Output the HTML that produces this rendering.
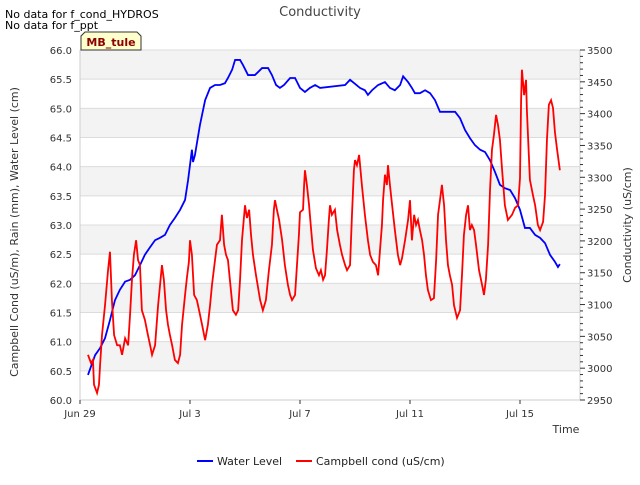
<!DOCTYPE html>
<html><head><meta charset="utf-8"><style>
body{margin:0;background:#fff;}
svg{font-family:"DejaVu Sans","Liberation Sans",sans-serif;}
</style></head><body>
<svg id="chart" width="640" height="480" viewBox="0 0 640 480" xmlns="http://www.w3.org/2000/svg">
<rect x="0" y="0" width="640" height="480" fill="#fff"/>
<text x="320" y="16" text-anchor="middle" font-size="13" fill="#444">Conductivity</text>
<text x="5" y="18" font-size="11" fill="#000">No data for f_cond_HYDROS</text>
<text x="5" y="29" font-size="11" fill="#000">No data for f_ppt</text>
<g id="bands"></g>
<g id="grid"></g>
<g id="series"></g>
<g id="axes"></g>
<g>
<path d="M81,50 L81,36 L85,32 L137,32 L141,36 L141,50 Z" fill="#ffffcc" stroke="#333" stroke-width="1"/>
<text x="111" y="46" text-anchor="middle" font-size="11" font-weight="bold" fill="#8b0000">MB_tule</text>
</g>
<text transform="translate(18,232) rotate(-90)" text-anchor="middle" font-size="11" fill="#333">Campbell Cond (uS/m), Rain (mm), Water Level (cm)</text>
<text transform="translate(631,225) rotate(-90)" text-anchor="middle" font-size="11" fill="#333">Conductivity (uS/cm)</text>
<text x="566" y="433" text-anchor="middle" font-size="11" fill="#333">Time</text>
<g>
<g><line x1="197" y1="461" x2="213" y2="461" stroke="#0000ff" stroke-width="2"/><text x="217" y="465" font-size="11" fill="#222">Water Level</text></g>
<g><line x1="296" y1="461" x2="312" y2="461" stroke="#ff0000" stroke-width="2"/><text x="316" y="465" font-size="11" fill="#222">Campbell cond (uS/cm)</text></g>
</g>
</svg>
<script>
const xTickLabels = ["Jun 29","Jul 3","Jul 7","Jul 11","Jul 15"];
const xTickDays = [0,4,8,12,16];
const leftTicks = [60.0,60.5,61.0,61.5,62.0,62.5,63.0,63.5,64.0,64.5,65.0,65.5,66.0];
const rightTicks = [2950,3000,3050,3100,3150,3200,3250,3300,3350,3400,3450,3500];
const waterDays = [0.29,0.55,0.73,0.91,1.09,1.27,1.45,1.64,1.82,2.0,2.18,2.36,2.55,2.73,2.91,3.09,3.27,3.45,3.64,3.82,3.93,4.07,4.11,4.18,4.36,4.55,4.73,4.91,5.09,5.27,5.38,5.53,5.64,5.82,5.93,6.11,6.36,6.47,6.62,6.84,6.98,7.13,7.27,7.42,7.64,7.82,8.0,8.18,8.36,8.55,8.73,9.64,9.82,10.0,10.18,10.36,10.47,10.62,10.84,11.09,11.27,11.45,11.64,11.75,11.93,12.07,12.18,12.36,12.55,12.73,12.91,13.09,13.64,13.82,14.0,14.18,14.36,14.55,14.73,14.91,15.09,15.27,15.45,15.64,15.82,16.0,16.18,16.36,16.55,16.73,16.91,17.09,17.27,17.38,17.45];
const waterLevel = [60.43,60.77,60.89,61.06,61.37,61.71,61.89,62.03,62.06,62.14,62.31,62.49,62.62,62.74,62.78,62.83,63.0,63.12,63.26,63.43,63.77,64.29,64.08,64.2,64.71,65.14,65.35,65.4,65.4,65.43,65.52,65.66,65.83,65.83,65.74,65.57,65.57,65.62,65.69,65.69,65.57,65.4,65.35,65.4,65.52,65.52,65.35,65.28,65.35,65.4,65.35,65.4,65.49,65.42,65.35,65.31,65.23,65.31,65.4,65.45,65.35,65.31,65.4,65.55,65.45,65.35,65.26,65.26,65.31,65.26,65.14,64.94,64.94,64.83,64.63,64.49,64.37,64.29,64.25,64.11,63.91,63.69,63.63,63.6,63.46,63.26,62.95,62.95,62.83,62.78,62.69,62.49,62.37,62.28,62.33];
const condDays = [0.29,0.40,0.47,0.51,0.62,0.69,0.73,0.80,0.91,1.02,1.09,1.16,1.24,1.35,1.45,1.53,1.64,1.75,1.82,1.89,1.96,2.04,2.11,2.18,2.25,2.36,2.47,2.55,2.62,2.73,2.84,2.98,3.05,3.13,3.20,3.27,3.35,3.45,3.56,3.64,3.71,3.82,3.89,3.96,4.00,4.07,4.15,4.25,4.33,4.44,4.55,4.65,4.73,4.80,4.91,4.98,5.09,5.16,5.24,5.31,5.38,5.45,5.56,5.67,5.75,5.82,5.89,6.00,6.07,6.15,6.22,6.29,6.40,6.55,6.65,6.76,6.87,6.98,7.05,7.09,7.16,7.24,7.35,7.45,7.56,7.64,7.71,7.82,7.89,7.96,8.00,8.11,8.15,8.18,8.25,8.33,8.40,8.47,8.58,8.69,8.76,8.84,8.91,8.98,9.05,9.09,9.16,9.27,9.35,9.45,9.53,9.64,9.71,9.82,9.89,9.96,10.00,10.07,10.15,10.25,10.36,10.47,10.55,10.65,10.76,10.84,10.91,10.98,11.02,11.09,11.16,11.20,11.27,11.35,11.45,11.56,11.64,11.71,11.82,11.93,12.00,12.07,12.15,12.22,12.29,12.36,12.44,12.51,12.58,12.65,12.76,12.87,12.95,13.02,13.09,13.16,13.24,13.31,13.38,13.45,13.53,13.60,13.71,13.82,13.89,13.96,14.04,14.11,14.18,14.25,14.33,14.40,14.51,14.62,14.69,14.76,14.84,14.91,14.98,15.05,15.13,15.20,15.27,15.35,15.45,15.56,15.71,15.82,15.93,16.00,16.04,16.07,16.15,16.22,16.25,16.36,16.47,16.55,16.65,16.73,16.84,16.91,16.98,17.05,17.13,17.20,17.27,17.35,17.45];
const condValues = [3021,3008,3013,2974,2961,2974,3005,3052,3099,3154,3183,3107,3052,3036,3036,3021,3047,3036,3084,3139,3178,3201,3170,3162,3091,3076,3052,3036,3021,3036,3099,3162,3139,3091,3068,3052,3036,3013,3008,3021,3068,3115,3143,3167,3201,3178,3115,3107,3091,3068,3044,3068,3099,3131,3170,3194,3201,3241,3194,3178,3170,3139,3091,3084,3091,3139,3201,3256,3236,3249,3209,3178,3146,3107,3091,3107,3154,3194,3249,3264,3249,3233,3201,3162,3131,3115,3107,3115,3162,3209,3245,3249,3288,3311,3288,3256,3220,3186,3157,3146,3154,3139,3146,3186,3233,3256,3241,3249,3217,3194,3178,3162,3154,3162,3241,3311,3327,3319,3335,3288,3241,3201,3178,3167,3162,3146,3186,3225,3264,3304,3288,3319,3288,3256,3217,3178,3162,3173,3201,3233,3264,3201,3241,3225,3233,3217,3201,3178,3146,3123,3107,3110,3170,3241,3264,3288,3256,3201,3162,3146,3131,3099,3079,3091,3146,3209,3241,3256,3217,3225,3217,3194,3154,3131,3115,3139,3194,3280,3343,3366,3398,3382,3359,3311,3256,3233,3241,3252,3256,3299,3421,3469,3429,3453,3406,3296,3272,3256,3225,3217,3230,3272,3359,3414,3421,3409,3371,3343,3311];

const NS="http://www.w3.org/2000/svg";
const X0=80,X1=580,Y0=50,Y1=400;
const xs=d=>X0+d*27.5;
const yl=v=>Y1-(v-60)/6*(Y1-Y0);
const yr=v=>Y1-(v-2950)/550*(Y1-Y0);
function mk(tag,attrs,parent){const e=document.createElementNS(NS,tag);for(const k in attrs)e.setAttribute(k,attrs[k]);parent.appendChild(e);return e;}
const bands=document.getElementById('bands'),grid=document.getElementById('grid'),series=document.getElementById('series'),axes=document.getElementById('axes');
mk('rect',{x:X0,y:Y0,width:X1-X0,height:Y1-Y0,fill:'#fff'},bands);
for(let i=0;i<leftTicks.length-1;i++){
  if(i%2===1){const r=mk('rect',{x:X0,y:yl(leftTicks[i+1]),width:X1-X0,height:yl(leftTicks[i])-yl(leftTicks[i+1]),fill:'#f3f3f3'},bands);
  
  }
}
leftTicks.forEach(v=>{
  const l=mk('line',{x1:X0,x2:X1,y1:yl(v),y2:yl(v),stroke:'#dcdcdc','stroke-width':1},grid);
  
  
  const t=mk('text',{x:72,y:yl(v)+4,'text-anchor':'end','font-size':10,fill:'#333'},axes);
  t.textContent=v.toFixed(1);
  
  
});
mk('line',{x1:X0,x2:X0,y1:Y0,y2:Y1,stroke:'#ccc'},axes);
mk('line',{x1:X0,x2:X1,y1:Y1,y2:Y1,stroke:'#ccc'},axes);
mk('line',{x1:X1,x2:X1,y1:Y0,y2:Y1,stroke:'#ccc'},axes);
for(let v=2950;v<=3500;v+=10){mk('line',{x1:X1,x2:X1+(v%50===0?5:3),y1:yr(v),y2:yr(v),stroke:'#333'},axes);}
rightTicks.forEach(v=>{
  const t=mk('text',{x:587,y:yr(v)+4,'font-size':10,fill:'#333'},axes);
  t.textContent=v;
  
  
});
xTickDays.forEach((d,i)=>{
  mk('line',{x1:xs(d),x2:xs(d),y1:Y1,y2:Y1+4,stroke:'#333'},axes);
  const t=mk('text',{x:xs(d),y:Y1+17,'text-anchor':'middle','font-size':10,fill:'#333'},axes);
  t.textContent=xTickLabels[i];
  
  
});
const wp=mk('polyline',{points:waterDays.map((d,i)=>xs(d)+','+yl(waterLevel[i])).join(' '),fill:'none',stroke:'#0000ff','stroke-width':1.8},series);


const cp=mk('polyline',{points:condDays.map((d,i)=>xs(d)+','+yr(condValues[i])).join(' '),fill:'none',stroke:'#ff0000','stroke-width':1.8},series);


</script>
</body></html>
